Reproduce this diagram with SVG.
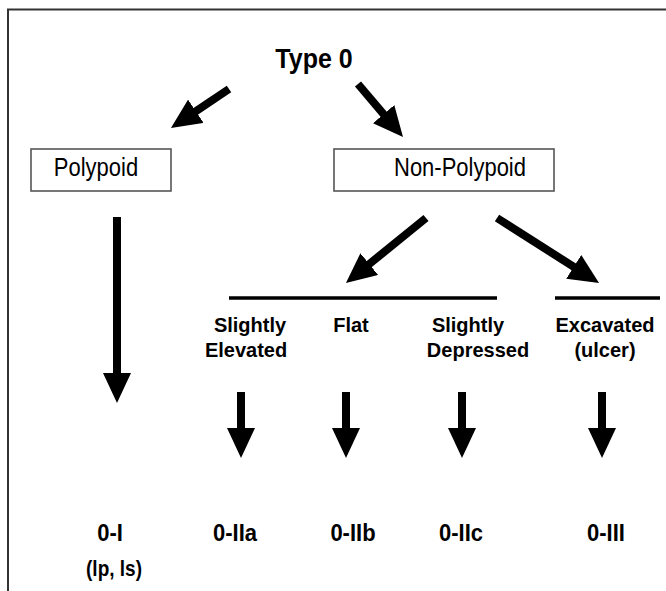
<svg xmlns="http://www.w3.org/2000/svg" width="666" height="591" viewBox="0 0 666 591">
<style>
text{font-family:"Liberation Sans",Arial,sans-serif;fill:#000;text-anchor:middle}
.b{font-weight:bold}
.box{fill:#fff;stroke:#555;stroke-width:1.6}
.arr{stroke:#000;stroke-width:8;fill:none;marker-end:url(#ah)}
.bar{stroke:#000;stroke-width:3.5}
.frame{stroke:#333;stroke-width:2;fill:none}
</style>
<defs>
<marker id="ah" markerUnits="userSpaceOnUse" markerWidth="30" markerHeight="28" refX="15" refY="14" orient="auto">
<path d="M0,0 L30,14 L0,28 z" fill="#000"/>
</marker>
</defs>
<rect width="666" height="591" fill="#fff"/>
<path class="frame" d="M8,591 V9.5 H666"/>

<g id="type0"><text class="b" font-size="25" transform="translate(314,68) scale(1,1.1)">Type 0</text></g>
<g id="polypoid"><rect class="box" x="31" y="149" width="140" height="42"/><text font-size="22" transform="translate(96,176) scale(1,1.15)">Polypoid</text></g>
<g id="nonpolypoid"><rect class="box" x="334" y="149" width="220" height="42"/><text font-size="22" transform="translate(460,176) scale(1,1.15)">Non-Polypoid</text></g>

<g id="bars">
<line class="bar" x1="229" y1="298" x2="497" y2="298"/>
<line class="bar" x1="555" y1="298" x2="660" y2="298"/>
</g>

<g id="slightly-elevated"><text class="b" font-size="20" transform="translate(250,332) scale(1,1.05)">Slightly</text><text class="b" font-size="20" transform="translate(246,357) scale(1,1.05)">Elevated</text></g>
<g id="flat"><text class="b" font-size="20" transform="translate(351,332) scale(1,1.05)">Flat</text></g>
<g id="slightly-depressed"><text class="b" font-size="20" transform="translate(468,332) scale(1,1.05)">Slightly</text><text class="b" font-size="20" transform="translate(478,357) scale(1,1.05)">Depressed</text></g>
<g id="excavated"><text class="b" font-size="20" transform="translate(605,332) scale(1,1.05)">Excavated</text><text class="b" font-size="20" transform="translate(605,357) scale(1,1.05)">(ulcer)</text></g>

<g id="t0I"><text class="b" font-size="22" transform="translate(110,541) scale(1,1.12)">0-I</text><text class="b" font-size="19" transform="translate(114,576) scale(1,1.15)">(lp, ls)</text></g>
<g id="t0IIa"><text class="b" font-size="22" transform="translate(235,541) scale(1,1.12)">0-IIa</text></g>
<g id="t0IIb"><text class="b" font-size="22" transform="translate(353,541) scale(1,1.12)">0-IIb</text></g>
<g id="t0IIc"><text class="b" font-size="22" transform="translate(461,541) scale(1,1.12)">0-IIc</text></g>
<g id="t0III"><text class="b" font-size="22" transform="translate(606,541) scale(1,1.12)">0-III</text></g>

<g id="connectors">
<line class="arr" x1="229" y1="89" x2="183.4" y2="119.6"/>
<line class="arr" x1="358" y1="84" x2="393.3" y2="125.6"/>
<line class="arr" x1="426" y1="218" x2="357.6" y2="273.5"/>
<line class="arr" x1="497" y1="218" x2="586.4" y2="274.9"/>
<line class="arr" x1="117" y1="217" x2="117" y2="388"/>
<line class="arr" x1="241" y1="392" x2="241" y2="443"/>
<line class="arr" x1="346" y1="392" x2="346" y2="443"/>
<line class="arr" x1="462" y1="392" x2="462" y2="443"/>
<line class="arr" x1="602" y1="392" x2="602" y2="443"/>
</g>
</svg>
